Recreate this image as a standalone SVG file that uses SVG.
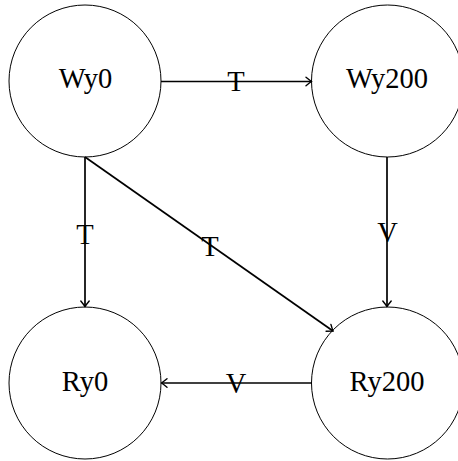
<svg xmlns="http://www.w3.org/2000/svg" width="458" height="461" viewBox="0 0 458 461">
<style>
.node circle{fill:none;stroke:#000;stroke-width:1}
text{font-family:"Liberation Serif","Times New Roman",serif;font-size:28.5px;fill:#000;text-anchor:middle}
.edge{fill:none;stroke:#000;stroke-width:1.7;marker-end:url(#arr)}
</style>
<defs>
<marker id="arr" markerUnits="userSpaceOnUse" viewBox="-8 -6 10 12" markerWidth="10" markerHeight="12" refX="0" refY="0" orient="auto" overflow="visible">
<path d="M-5.5,-4.2 Q-1.5,-1 0,0 Q-1.5,1 -5.5,4.2" fill="none" stroke="#000" stroke-width="1.4" stroke-linecap="round"/>
</marker>
</defs>
<g id="connectors">
<line class="edge" x1="161" y1="81.5" x2="311.5" y2="81.5"/>
<line class="edge" x1="85" y1="157" x2="85" y2="306.5"/>
<line class="edge" x1="85" y1="157" x2="333" y2="331"/>
<line class="edge" x1="387" y1="157" x2="387" y2="306.5"/>
<line class="edge" x1="312" y1="383" x2="161.5" y2="383"/>
<text x="236" y="91">T</text>
<text x="85" y="243.5">T</text>
<text x="210" y="255.5">T</text>
<text x="387.5" y="242">V</text>
<text x="236" y="393">V</text>
</g>
<g id="Wy0" class="node"><circle cx="85" cy="81" r="76"/><text x="85.5" y="87.5">Wy0</text></g>
<g id="Wy200" class="node"><circle cx="387.5" cy="81" r="76"/><text x="387" y="87.5">Wy200</text></g>
<g id="Ry0" class="node"><circle cx="85" cy="383" r="76"/><text x="85" y="391">Ry0</text></g>
<g id="Ry200" class="node"><circle cx="387.5" cy="383" r="76"/><text x="387" y="391">Ry200</text></g>
</svg>
